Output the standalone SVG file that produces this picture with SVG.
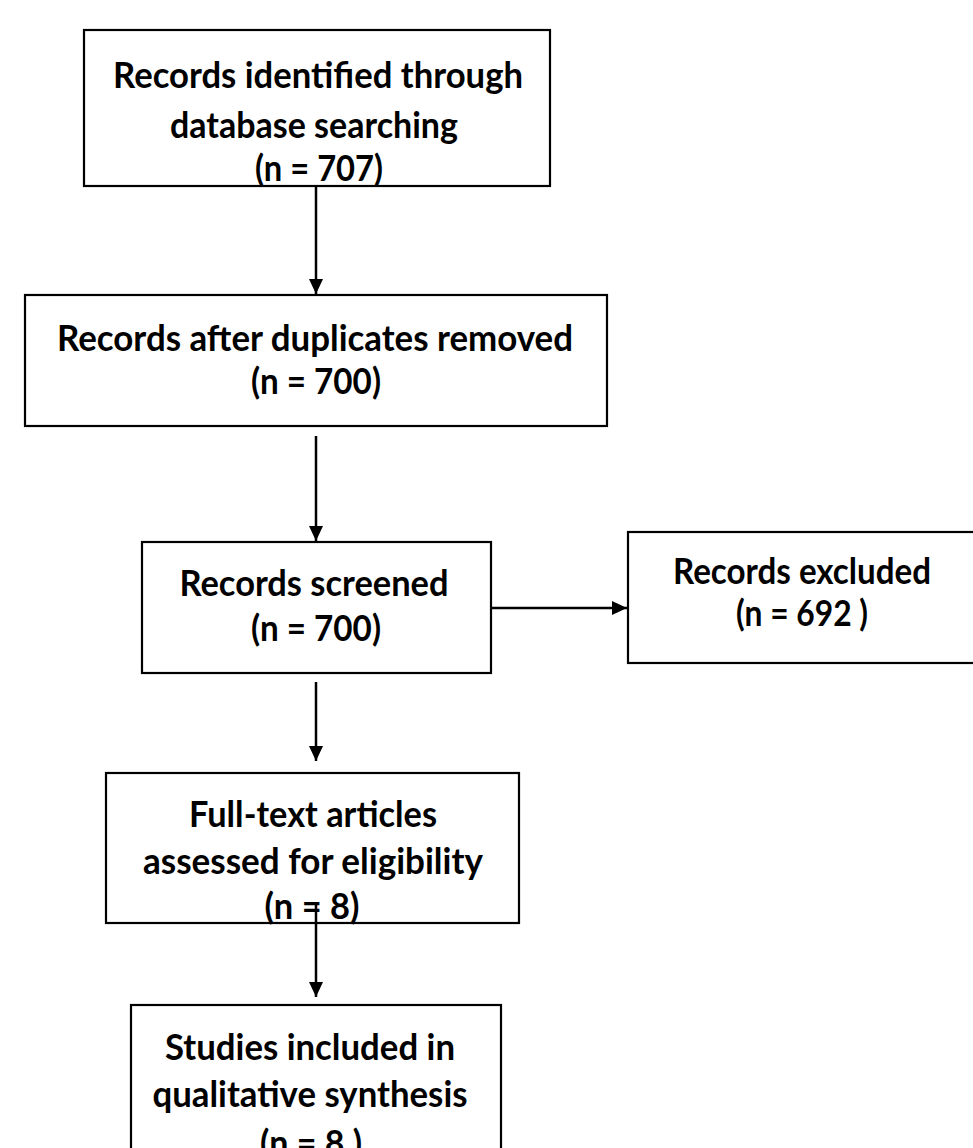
<svg xmlns="http://www.w3.org/2000/svg" width="973" height="1148" viewBox="0 0 973 1148">
<style>
  .box { fill: #ffffff; stroke: #000000; stroke-width: 2.2; }
  .lbl { font-family: "Lato", "Open Sans", "Liberation Sans", sans-serif; font-weight: bold; font-size: 37px; fill: #000000; text-anchor: middle; }
  .conn { stroke: #000000; stroke-width: 2.5; fill: none; }
</style>
<defs>
  <marker id="arrow" markerUnits="userSpaceOnUse" markerWidth="16" markerHeight="16" refX="15" refY="7" orient="auto">
    <path d="M0,0 L15,7 L0,14 Z" fill="#000000"/>
  </marker>
</defs>
<rect width="973" height="1148" fill="#ffffff"/>
<g id="node-identified">
  <rect class="box" x="84" y="30" width="466" height="156"/>
  <text class="lbl" x="318" y="88" textLength="410" lengthAdjust="spacingAndGlyphs">Records identified through</text>
  <text class="lbl" x="314" y="138" textLength="288" lengthAdjust="spacingAndGlyphs">database searching</text>
  <text class="lbl" x="319" y="181" textLength="128" lengthAdjust="spacingAndGlyphs">(n = 707)</text>
</g>
<g id="node-duplicates">
  <rect class="box" x="25" y="295" width="582" height="131"/>
  <text class="lbl" x="315" y="351" textLength="516" lengthAdjust="spacingAndGlyphs">Records after duplicates removed</text>
  <text class="lbl" x="316" y="394" textLength="130" lengthAdjust="spacingAndGlyphs">(n = 700)</text>
</g>
<g id="node-screened">
  <rect class="box" x="142" y="542" width="349" height="131"/>
  <text class="lbl" x="314" y="596" textLength="269" lengthAdjust="spacingAndGlyphs">Records screened</text>
  <text class="lbl" x="316" y="641" textLength="130" lengthAdjust="spacingAndGlyphs">(n = 700)</text>
</g>
<g id="node-excluded">
  <rect class="box" x="628" y="532" width="350" height="131"/>
  <text class="lbl" x="802" y="584" textLength="258" lengthAdjust="spacingAndGlyphs">Records excluded</text>
  <text class="lbl" x="802" y="626" textLength="132" lengthAdjust="spacingAndGlyphs">(n = 692 )</text>
</g>
<g id="node-fulltext">
  <rect class="box" x="106" y="773" width="413" height="150"/>
  <text class="lbl" x="313" y="827" textLength="248" lengthAdjust="spacingAndGlyphs">Full-text articles</text>
  <text class="lbl" x="313" y="874" textLength="340" lengthAdjust="spacingAndGlyphs">assessed for eligibility</text>
  <text class="lbl" x="312" y="919" textLength="95" lengthAdjust="spacingAndGlyphs">(n = 8)</text>
</g>
<g id="node-included">
  <rect class="box" x="131" y="1005" width="370" height="150"/>
  <text class="lbl" x="310" y="1060" textLength="290" lengthAdjust="spacingAndGlyphs">Studies included in</text>
  <text class="lbl" x="310" y="1107" textLength="315" lengthAdjust="spacingAndGlyphs">qualitative synthesis</text>
  <text class="lbl" x="311" y="1156" textLength="102" lengthAdjust="spacingAndGlyphs">(n = 8 )</text>
</g>
<g id="connectors">
  <line class="conn" x1="316" y1="186" x2="316" y2="294" marker-end="url(#arrow)"/>
  <line class="conn" x1="316" y1="436" x2="316" y2="541" marker-end="url(#arrow)"/>
  <line class="conn" x1="491" y1="608" x2="627" y2="608" marker-end="url(#arrow)"/>
  <line class="conn" x1="316" y1="682" x2="316" y2="761" marker-end="url(#arrow)"/>
  <line class="conn" x1="316" y1="905" x2="316" y2="997" marker-end="url(#arrow)"/>
</g>
</svg>
